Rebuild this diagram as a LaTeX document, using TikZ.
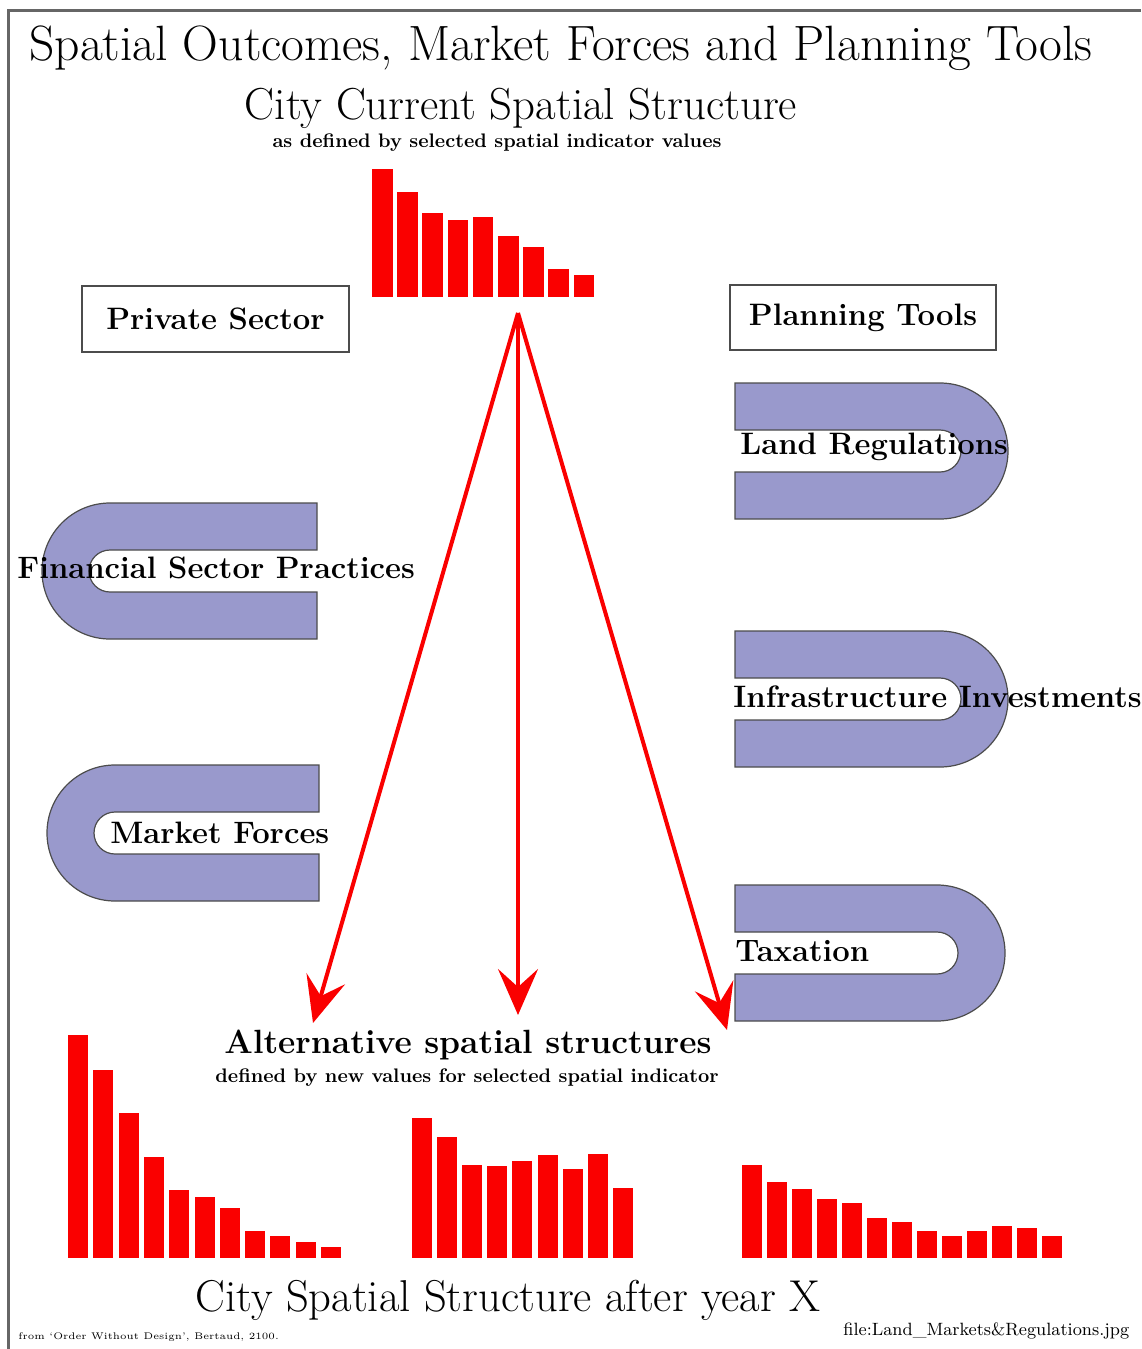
\documentclass[tikz,border=0pt]{standalone}
\usepackage{tikz}
\usetikzlibrary{positioning, arrows.meta}
\definecolor{shoeblue}{RGB}{153,153,204}
\definecolor{barred}{RGB}{250,0,0}

\begin{document}
\begin{tikzpicture}[x=0.5pt, y=-0.5pt, every node/.style={inner sep=0pt},
        shoe/.style={fill=shoeblue, draw=black!70, line width=0.6pt},
        bar/.style={fill=barred},
        trend/.style={draw=barred, line width=2pt, -{Stealth[length=23pt, width=20pt, inset=9pt]}},
        label/.style={font=\fontsize{15.5}{18}\selectfont\bfseries}]
        \useasboundingbox (0,0) rectangle (1141,1349);

        % Frame
        \draw[black!60, line width=1.5pt] (8,1349) -- (8,10) -- (1141,10);

        % Titles
        \node (title) at (561,48) {\fontsize{24.8}{29}\selectfont Spatial Outcomes, Market Forces and Planning Tools};
        \node (current) at (521,108) {\fontsize{22.4}{26}\selectfont City Current Spatial Structure};
        \node (currentsub) at (497,143) {\fontsize{9.8}{11}\selectfont\bfseries as defined by selected spatial indicator values};

        % Current structure
        \foreach \h [count=\i from 0] in {169,192,213,220,217,236,247,269,275}
            \fill[bar] (372+25.2*\i,297) rectangle (392.5+25.2*\i,\h);

        % Sector boxes
        \node[draw=black!70, line width=0.8pt, minimum width=133.5pt, minimum height=33pt, label] (private) at (215.5,319) {Private Sector};
        \node[draw=black!70, line width=0.8pt, minimum width=133pt, minimum height=32.5pt, label] (planning) at (863,317.5) {Planning Tools};

        % Planning tools
        \draw[shoe] (735,383) -- (940,383) arc[start angle=-90, end angle=90, radius=68] -- (735,519) -- (735,472) -- (940,472) arc[start angle=90, end angle=-90, radius=21] -- (735,430) -- cycle;
        \draw[shoe] (735,631) -- (940,631) arc[start angle=-90, end angle=90, radius=68] -- (735,767) -- (735,720) -- (940,720) arc[start angle=90, end angle=-90, radius=21] -- (735,678) -- cycle;
        \draw[shoe] (735,885) -- (937,885) arc[start angle=-90, end angle=90, radius=68] -- (735,1021) -- (735,974) -- (937,974) arc[start angle=90, end angle=-90, radius=21] -- (735,932) -- cycle;
        \node[label, anchor=west] (land) at (740,447) {Land Regulations};
        \node[label, anchor=west] (infra) at (733,697) {Infrastructure Investments};
        \node[label, anchor=west] (tax) at (735,951) {Taxation};

        % Private sector
        \draw[shoe] (317,503) -- (110,503) arc[start angle=-90, end angle=-270, radius=68] -- (317,639) -- (317,592) -- (110,592) arc[start angle=90, end angle=270, radius=21] -- (317,550) -- cycle;
        \draw[shoe] (319,765) -- (115,765) arc[start angle=-90, end angle=-270, radius=68] -- (319,901) -- (319,854) -- (115,854) arc[start angle=90, end angle=270, radius=21] -- (319,812) -- cycle;
        \node[label, anchor=west] (finance) at (17,568) {Financial Sector Practices};
        \node[label, anchor=west] (market) at (110,833) {Market Forces};

        % Outcomes
        \coordinate (apex) at (518,313);
        \coordinate (alt1) at (313,1023);
        \coordinate (alt2) at (518,1015);
        \coordinate (alt3) at (727,1030);
        \draw[trend] (apex) -- (alt1);
        \draw[trend] (apex) -- (alt2);
        \draw[trend] (apex) -- (alt3);

        \node (alternative) at (468,1045) {\fontsize{16.8}{20}\selectfont\bfseries Alternative spatial structures};
        \node (alternativesub) at (467,1078) {\fontsize{9.8}{11}\selectfont\bfseries defined by new values for selected spatial indicator};

        % Alternative structures
        \foreach \h [count=\i from 0] in {1035,1070,1113,1157,1190,1197,1208,1231,1236,1242,1247}
            \fill[bar] (68+25.3*\i,1258) rectangle (88+25.3*\i,\h);
        \foreach \h [count=\i from 0] in {1118,1137,1165,1166,1161,1155,1169,1154,1188}
            \fill[bar] (412+25.1*\i,1258) rectangle (432+25.1*\i,\h);
        \foreach \h [count=\i from 0] in {1165,1182,1189,1199,1203,1218,1222,1231,1236,1231,1226,1228,1236}
            \fill[bar] (742+25*\i,1258) rectangle (762+25*\i,\h);

        \node (after) at (508,1300) {\fontsize{22.3}{26}\selectfont City Spatial Structure after year X};
        \node[anchor=west] (credit) at (18,1337) {\fontsize{4.8}{6}\selectfont from `Order Without Design', Bertaud, 2100.};
        \node[anchor=west] (file) at (843,1331) {\fontsize{8.9}{10}\selectfont file:Land\_Markets\&Regulations.jpg};
    \end{tikzpicture}
\end{document}
